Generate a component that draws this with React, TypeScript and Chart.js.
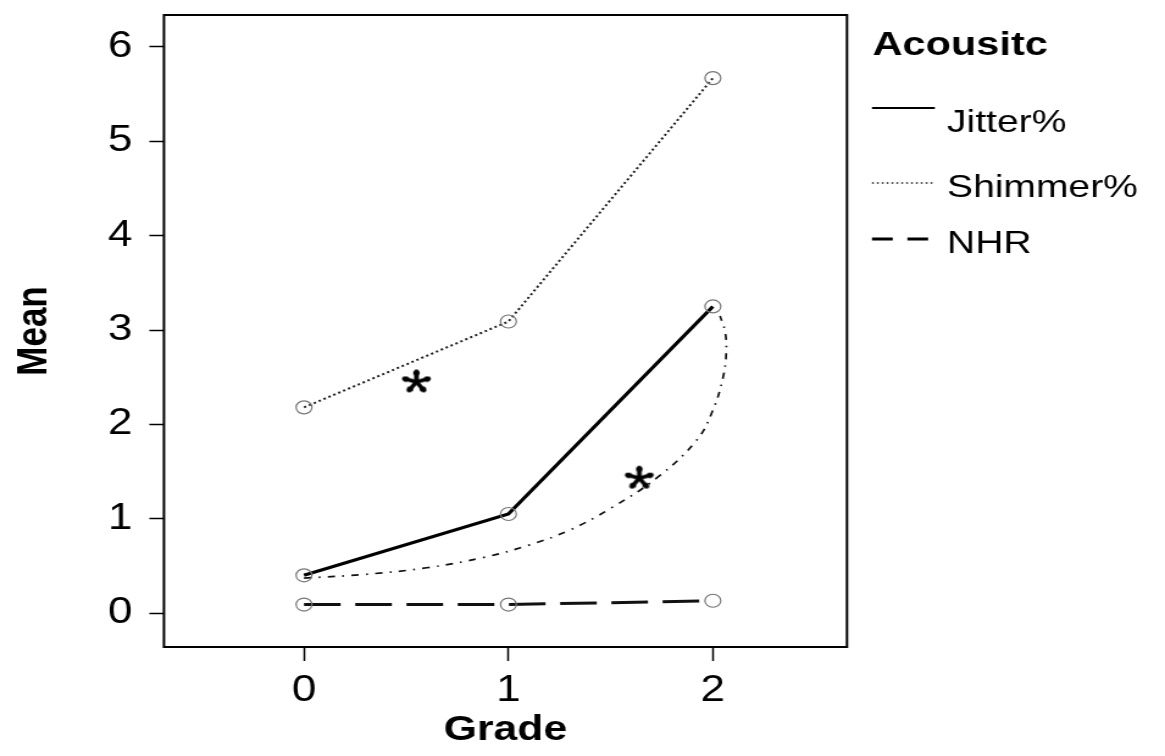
import React, { useEffect, useRef } from "react";
import { Chart, registerables } from "chart.js";

Chart.register(...registerables);

// ---- data ----
const grades = [0, 1, 2];
const xTickValues = [0, 1, 2];
const yTickValues = [0, 1, 2, 3, 4, 5, 6];
const seriesNames = ["Jitter%", "Shimmer%", "NHR"];
const jitter = [0.4, 1.05, 3.25];
const shimmer = [2.18, 3.09, 5.67];
const nhr = [0.09, 0.09, 0.13];
// hand-drawn trend curve (dash-dot)
const trendX = [0, 0.3, 0.6, 0.88, 1.1, 1.3, 1.5, 1.73, 1.92, 2.0, 2.05, 2.065, 2.06, 2.035];
const trendY = [0.37, 0.41, 0.48, 0.59, 0.72, 0.88, 1.11, 1.44, 1.83, 2.15, 2.5, 2.75, 2.98, 3.15];
// significance asterisks
const starX = [0.55, 1.64];
const starY = [2.45, 1.43];
const legendTitle = "Acousitc";
const xTitle = "Grade";
const yTitle = "Mean";

const FONT = '"Liberation Sans", Arial, Helvetica, sans-serif';
const LOGICAL_W = 955;
const H = 756;

function makeAsterisk(): HTMLCanvasElement {
  const r = 10.5;
  const size = Math.ceil(r * 2 + 8);
  const c = document.createElement("canvas");
  c.width = size;
  c.height = size;
  const g = c.getContext("2d")!;
  const cx = size / 2;
  g.strokeStyle = "#000";
  g.fillStyle = "#000";
  g.lineWidth = 3.8;
  g.lineCap = "round";
  for (let k = 0; k < 5; k++) {
    const ang = -Math.PI / 2 + (k * 2 * Math.PI) / 5;
    g.beginPath();
    g.moveTo(cx, cx);
    g.lineTo(cx + r * Math.cos(ang), cx + r * Math.sin(ang));
    g.stroke();
    g.beginPath();
    g.arc(cx + (r - 1.5) * Math.cos(ang), cx + (r - 1.5) * Math.sin(ang), 2.7, 0, Math.PI * 2);
    g.fill();
  }
  return c;
}

const legendStyles = [
  { width: 2.2, dash: [] as number[], color: "#000", lineY: 108, textY: 132 },
  { width: 1.5, dash: [1.5, 2.5], color: "#222", lineY: 183, textY: 197 },
  { width: 3, dash: [17, 12], color: "#000", lineY: 239, textY: 253 },
];

const framePlugin = {
  id: "frameAndLegend",
  afterDraw(chart: any) {
    const { ctx, chartArea: a } = chart;
    ctx.save();
    ctx.strokeStyle = "#000";
    ctx.lineWidth = 2;
    ctx.setLineDash([]);
    ctx.strokeRect(a.left, a.top, a.right - a.left, a.bottom - a.top);

    const x0 = a.right + 21;
    ctx.fillStyle = "#000";
    ctx.textAlign = "left";
    ctx.textBaseline = "alphabetic";
    ctx.font = `bold 34px ${FONT}`;
    ctx.fillText(legendTitle, x0, 55);

    ctx.font = `32px ${FONT}`;
    seriesNames.forEach((name, i) => {
      const s = legendStyles[i];
      ctx.beginPath();
      ctx.strokeStyle = s.color;
      ctx.lineWidth = s.width;
      ctx.setLineDash(s.dash);
      ctx.moveTo(a.right + 20.5, s.lineY);
      ctx.lineTo(a.right + 72, s.lineY);
      ctx.stroke();
      ctx.setLineDash([]);
      ctx.fillText(name, a.right + 82, s.textY);
    });
    ctx.restore();
  },
};

export default function App() {
  const ref = useRef<HTMLCanvasElement | null>(null);

  useEffect(() => {
    if (!ref.current) return;
    const asterisk = makeAsterisk();
    const pts = (xs: number[], ys: number[]) => xs.map((x, i) => ({ x, y: ys[i] }));
    const marker = {
      pointRadius: 6.5,
      pointHoverRadius: 6.5,
      pointBorderColor: "#777",
      pointBorderWidth: 1.2,
      pointBackgroundColor: "rgba(0,0,0,0)",
    };
    const chart = new Chart(ref.current, {
      type: "scatter",
      data: {
        datasets: [
          {
            label: seriesNames[0],
            data: pts(grades, jitter),
            showLine: true,
            borderColor: "#000",
            borderWidth: 3.2,
            ...marker,
          },
          {
            label: seriesNames[1],
            data: pts(grades, shimmer),
            showLine: true,
            borderColor: "#222",
            borderWidth: 2,
            borderDash: [2, 2.5],
            ...marker,
          },
          {
            label: seriesNames[2],
            data: pts(grades, nhr),
            showLine: true,
            borderColor: "#111",
            borderWidth: 3,
            borderDash: [30, 12],
            ...marker,
          },
          {
            label: "trend",
            data: pts(trendX, trendY),
            showLine: true,
            borderColor: "#111",
            borderWidth: 1.7,
            borderDash: [6, 6, 1.5, 6],
            tension: 0.4,
            pointRadius: 0,
          },
          {
            label: "sig",
            data: pts(starX, starY),
            showLine: false,
            pointStyle: asterisk as any,
            pointRadius: 11,
          },
        ],
      } as any,
      options: {
        responsive: false,
        animation: false,
        devicePixelRatio: 1,
        layout: { padding: { left: 0, right: LOGICAL_W - 694.3, top: 15, bottom: 0 } },
        plugins: {
          legend: { display: false },
          tooltip: { enabled: false },
        },
        scales: {
          x: {
            type: "linear",
            min: -0.685,
            max: 2.656,
            afterBuildTicks: (s: any) => {
              s.ticks = xTickValues.map((v) => ({ value: v }));
            },
            afterFit: (s: any) => {
              s.height = 109;
              s.paddingLeft = 0;
              s.paddingRight = 0;
            },
            grid: {
              drawOnChartArea: false,
              drawTicks: true,
              tickLength: 14,
              tickColor: "#000",
              tickWidth: 1.5,
            },
            border: { display: false },
            ticks: {
              padding: 8,
              color: "#000",
              font: { family: FONT, size: 36 },
              callback: (v: any) => String(v),
            },
            title: {
              display: true,
              text: xTitle,
              color: "#000",
              font: { family: FONT, size: 35, weight: "bold" },
              padding: { top: 0, bottom: 5 },
            },
          },
          y: {
            type: "linear",
            min: -0.36,
            max: 6.339,
            afterBuildTicks: (s: any) => {
              s.ticks = yTickValues.map((v) => ({ value: v }));
            },
            afterFit: (s: any) => {
              s.width = 134.4;
              s.paddingTop = 0;
              s.paddingBottom = 0;
            },
            grid: {
              drawOnChartArea: false,
              drawTicks: true,
              tickLength: 12,
              tickColor: "#000",
              tickWidth: 1.5,
            },
            border: { display: false },
            ticks: {
              padding: 14,
              color: "#000",
              font: { family: FONT, size: 36 },
              callback: (v: any) => String(v),
            },
            title: {
              display: true,
              text: yTitle,
              color: "#000",
              font: { family: FONT, size: 35, weight: "bold" },
              padding: { top: 7.7, bottom: 0 },
            },
          },
        },
      } as any,
      plugins: [framePlugin],
    });
    return () => chart.destroy();
  }, []);

  return (
    <div style={{ position: "fixed", left: 0, top: 0, width: 1165, height: H, background: "#fff" }}>
      <canvas
        ref={ref}
        width={LOGICAL_W}
        height={H}
        style={{ display: "block", width: "1165px", height: `${H}px` }}
      />
    </div>
  );
}
